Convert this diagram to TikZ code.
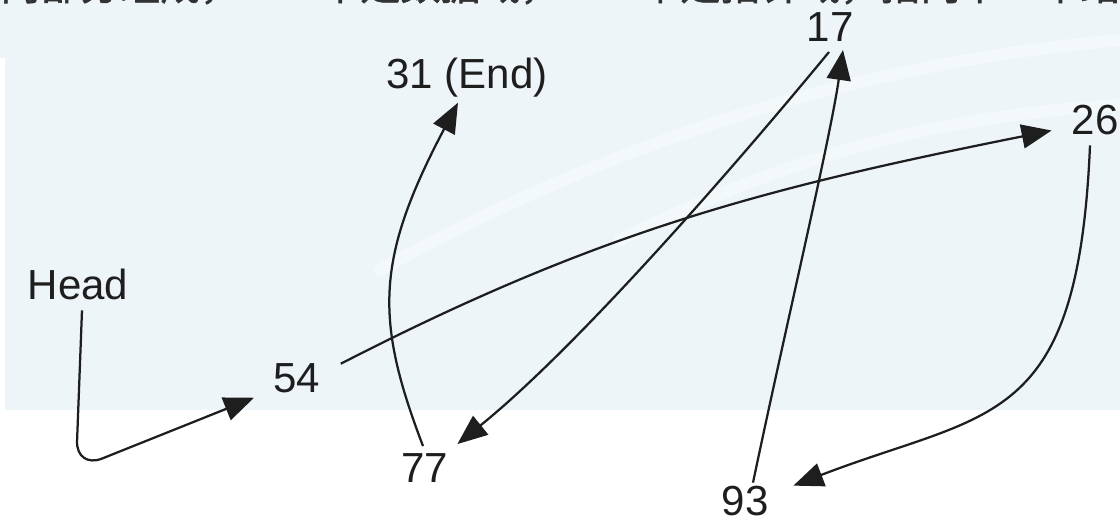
\documentclass[tikz,border=0pt]{standalone}
\usepackage{fontspec}
\setmainfont{Liberation Sans}
\newfontfamily\cjk[FakeBold=1.5]{Noto Sans CJK SC}
\usepackage{tikz}
\usetikzlibrary{arrows.meta}
\definecolor{inkgray}{RGB}{30,30,30}
\definecolor{slideblue}{RGB}{238,245,249}
\definecolor{titlegray}{RGB}{50,50,50}
\tikzset{
  numlabel/.style={anchor=base, inner sep=0pt, outer sep=0pt, text=inkgray,
    font=\fontsize{29.9pt}{32pt}\selectfont},
  link/.style={-{Triangle[length=7.5mm,width=6mm]}, line width=1.6pt, draw=inkgray},
  swoosh/.style={draw=white, line width=3mm, opacity=0.35, line cap=round}
}
\begin{document}
\begin{tikzpicture}[x=0.025cm, y=-0.025cm]
\useasboundingbox (0,0) rectangle (1120,523);
\clip (0,0) rectangle (1120,523);
\fill[slideblue] (0,0) rectangle (1120,58);
\fill[slideblue] (5,58) rectangle (1120,410);
\draw[swoosh] (380,270) .. controls (650,120) and (900,60) .. (1120,40);
\draw[swoosh] (620,240) .. controls (800,150) and (950,115) .. (1120,105);
\node[anchor=base west, inner sep=0pt, text=titlegray,
  font=\cjk\fontsize{28.45pt}{30pt}\selectfont] (title) at (-120,0)
  {结点由两部分组成，　一个是数据域，　一个是指针域，指向下一个结点};

\node[numlabel] (head) at (78,300) {Head};
\node[numlabel] (n54) at (297,393) {54};
\node[numlabel] (n77) at (425,483) {77};
\node[numlabel] (n31) at (467,89) {31 (End)};
\node[numlabel] (n17) at (830,42) {17};
\node[numlabel] (n26) at (1095,135) {26};
\node[numlabel] (n93) at (745,516) {93};

\draw[link, rounded corners=7mm] ([xshift=0.1cm,yshift=-0.25cm]head.south) -- (76,469)
  -- ([xshift=-0.49cm,yshift=-0.475cm]n54.west);
\draw[link] ([xshift=0.51cm,yshift=0.375cm]n54.east)
  .. controls (601,230) and (765,188) .. ([xshift=-0.5cm,yshift=-0.25cm]n26.west);
\draw[link] ([xshift=-0.125cm,yshift=-0.25cm]n26.south)
  .. controls (1078,430) and (990,410) .. ([xshift=0.625cm,yshift=0.025cm]n93.north east);
\draw[link] ([xshift=0.2cm,yshift=0.1cm]n93.north)
  .. controls (785,330) and (830,140) .. ([xshift=0.325cm,yshift=-0.2cm]n17.south);
\draw[link] ([xshift=-0.025cm,yshift=-0.25cm]n17.south)
  .. controls (740,160) and (580,345) .. ([xshift=0.225cm,yshift=0.25cm]n77.north east);
\draw[link] ([xshift=-0.05cm,yshift=0.2cm]n77.north)
  .. controls (375,320) and (375,260) .. ([xshift=-0.225cm,yshift=-0.125cm]n31.south);
\end{tikzpicture}
\end{document}
